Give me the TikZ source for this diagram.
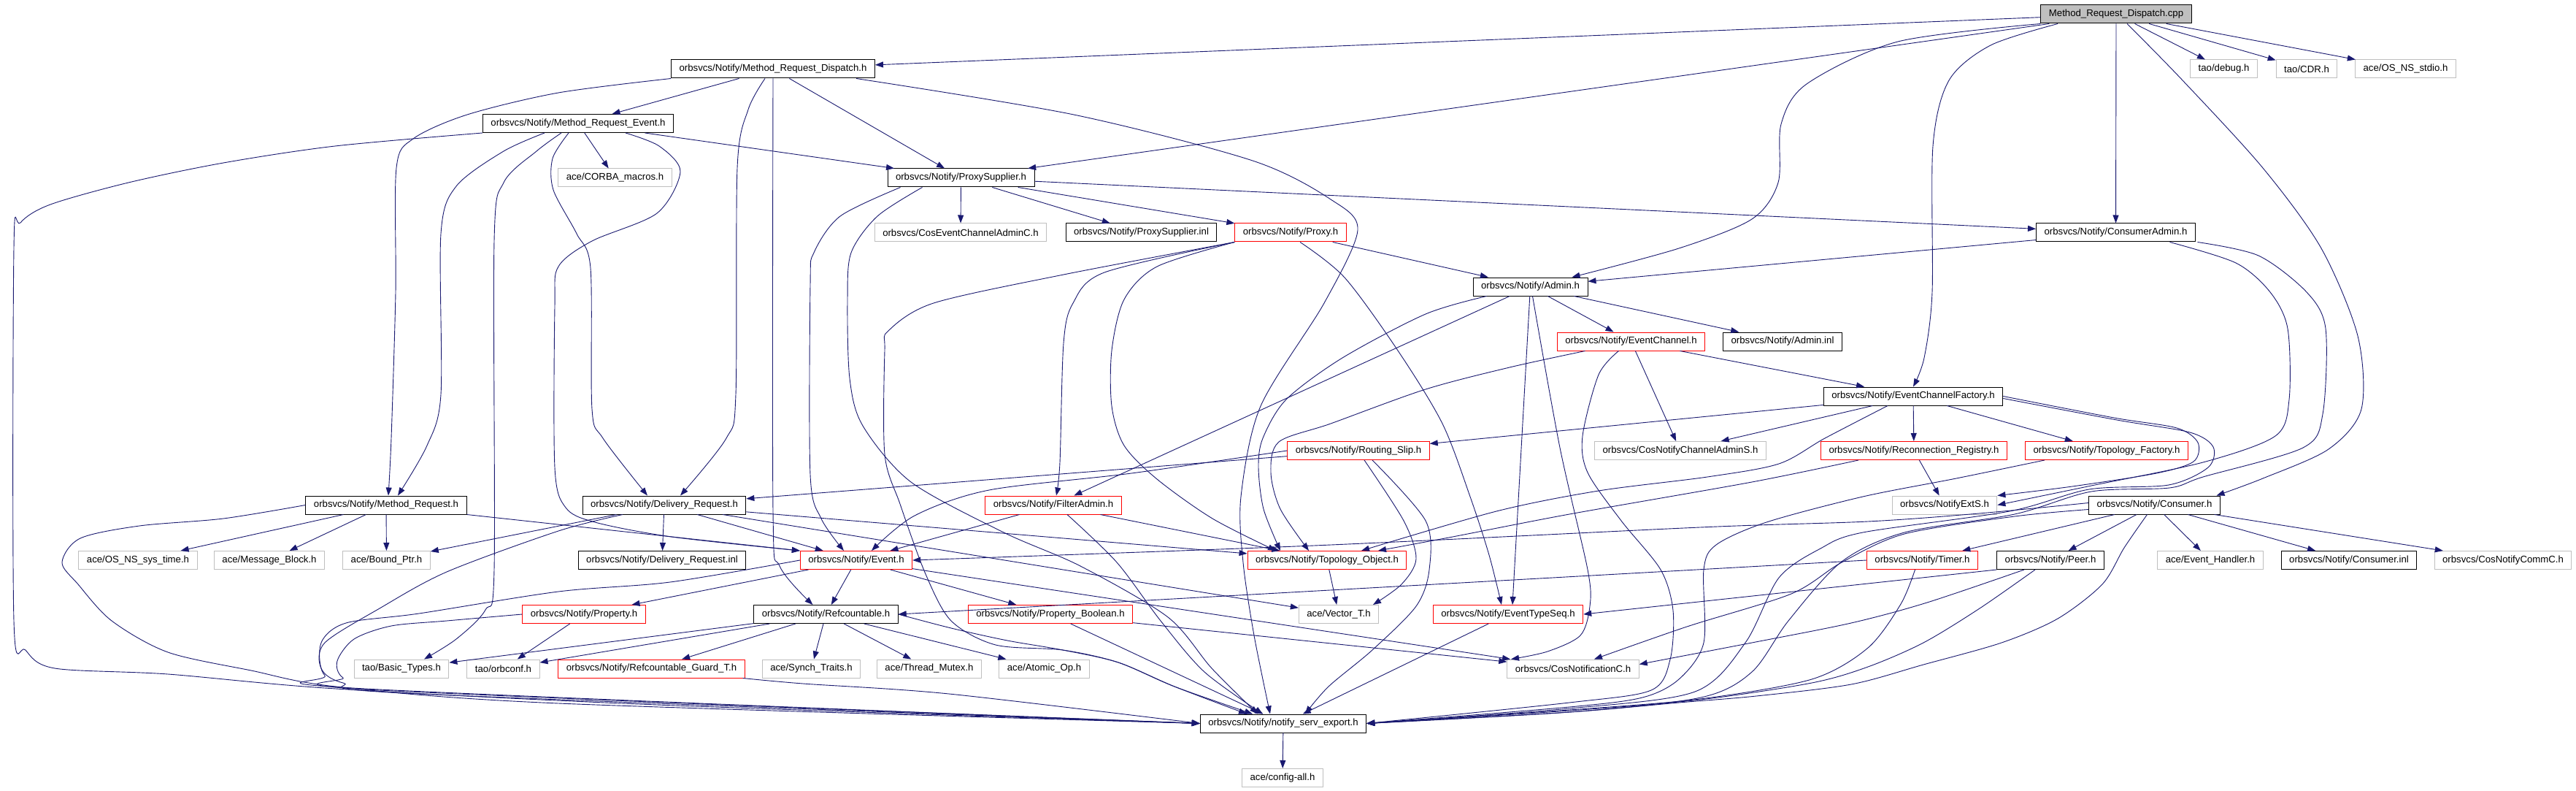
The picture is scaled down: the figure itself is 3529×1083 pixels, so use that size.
\documentclass[tikz,border=0pt]{standalone}
\usepackage{fontspec}
\newfontfamily\graphfont{Liberation Sans}
\usetikzlibrary{arrows.meta}
\definecolor{edgeblue}{HTML}{191970}
\definecolor{extgray}{HTML}{BFBFBF}
\tikzset{
  hnode/.style={draw=black, rectangle, line width=1pt, minimum height=25pt, inner xsep=11pt, inner ysep=0pt,
                font=\graphfont\fontsize{13.2}{15}\selectfont},
  trunc/.style={hnode, draw=red},
  ext/.style={hnode, draw=extgray},
  root/.style={hnode, fill=extgray},
  inc/.style={draw=edgeblue, line width=0.9pt, -{Triangle[length=11pt,width=8pt]}}
}

\begin{document}
\begin{tikzpicture}[x=1pt, y=-1pt]
\fill[white] (0,0) rectangle (3529,1083);
\useasboundingbox (0,0) rectangle (3529,1083);

\node[root]  (cpp)      at (2899,19.5)    {Method\_Request\_Dispatch.cpp};
\node[hnode] (MRD)      at (1059,94.5)    {orbsvcs/Notify/Method\_Request\_Dispatch.h};
\node[ext]   (debug)    at (3046.5,94.5)  {tao/debug.h};
\node[ext]   (CDR)      at (3160,94.5)    {tao/CDR.h};
\node[ext]   (stdio)    at (3295.5,94.5)  {ace/OS\_NS\_stdio.h};
\node[hnode] (MRE)      at (792,169)      {orbsvcs/Notify/Method\_Request\_Event.h};
\node[ext]   (CORBA)    at (842.5,243.5)  {ace/CORBA\_macros.h};
\node[hnode] (PS)       at (1316.5,243.5) {orbsvcs/Notify/ProxySupplier.h};
\node[ext]   (CECA)     at (1316,318.5)   {orbsvcs/CosEventChannelAdminC.h};
\node[hnode] (PSinl)    at (1563.5,318.5) {orbsvcs/Notify/ProxySupplier.inl};
\node[trunc] (Proxy)    at (1768,318.5)   {orbsvcs/Notify/Proxy.h};
\node[hnode] (CA)       at (2898.5,318.5) {orbsvcs/Notify/ConsumerAdmin.h};
\node[hnode] (Admin)    at (2096.5,392.5) {orbsvcs/Notify/Admin.h};
\node[trunc] (EC)       at (2234.5,467.5) {orbsvcs/Notify/EventChannel.h};
\node[hnode] (Admininl) at (2442,467.5)   {orbsvcs/Notify/Admin.inl};
\node[hnode] (ECF)      at (2621,542.5)   {orbsvcs/Notify/EventChannelFactory.h};
\node[trunc] (RS)       at (1861,617)     {orbsvcs/Notify/Routing\_Slip.h};
\node[ext]   (CNCAS)    at (2302,617)     {orbsvcs/CosNotifyChannelAdminS.h};
\node[trunc] (RR)       at (2622,617)     {orbsvcs/Notify/Reconnection\_Registry.h};
\node[trunc] (TF)       at (2886,617)     {orbsvcs/Notify/Topology\_Factory.h};
\node[hnode] (MR)       at (529,691.5)    {orbsvcs/Notify/Method\_Request.h};
\node[hnode] (DR)       at (910,691.5)    {orbsvcs/Notify/Delivery\_Request.h};
\node[trunc] (FA)       at (1443,691.5)   {orbsvcs/Notify/FilterAdmin.h};
\node[ext]   (NES)      at (2664,691.5)   {orbsvcs/NotifyExtS.h};
\node[hnode] (Cons)     at (2951.5,691.5) {orbsvcs/Notify/Consumer.h};
\node[ext]   (OSsys)    at (189,767)      {ace/OS\_NS\_sys\_time.h};
\node[ext]   (MB)       at (369,767)      {ace/Message\_Block.h};
\node[ext]   (BP)       at (529.5,767)    {ace/Bound\_Ptr.h};
\node[hnode] (DRinl)    at (907,767)      {orbsvcs/Notify/Delivery\_Request.inl};
\node[trunc] (Ev)       at (1173,767)     {orbsvcs/Notify/Event.h};
\node[trunc] (TO)       at (1818,767)     {orbsvcs/Notify/Topology\_Object.h};
\node[trunc] (Timer)    at (2633.5,767)   {orbsvcs/Notify/Timer.h};
\node[hnode] (Peer)     at (2809,767)     {orbsvcs/Notify/Peer.h};
\node[ext]   (EH)       at (3028,767)     {ace/Event\_Handler.h};
\node[hnode] (Consinl)  at (3218,767)     {orbsvcs/Notify/Consumer.inl};
\node[ext]   (CNCC)     at (3429,767)     {orbsvcs/CosNotifyCommC.h};
\node[trunc] (Prop)     at (800,841)      {orbsvcs/Notify/Property.h};
\node[hnode] (Ref)      at (1131.5,841)   {orbsvcs/Notify/Refcountable.h};
\node[trunc] (PB)       at (1439,841)     {orbsvcs/Notify/Property\_Boolean.h};
\node[ext]   (VT)       at (1834,841)     {ace/Vector\_T.h};
\node[trunc] (ETS)      at (2066,841)     {orbsvcs/Notify/EventTypeSeq.h};
\node[ext]   (BT)       at (550,915.5)    {tao/Basic\_Types.h};
\node[ext]   (orbconf)  at (689.5,915.5)  {tao/orbconf.h};
\node[trunc] (RG)       at (892.5,915.5)  {orbsvcs/Notify/Refcountable\_Guard\_T.h};
\node[ext]   (ST)       at (1111.5,915.5) {ace/Synch\_Traits.h};
\node[ext]   (TM)       at (1273,915.5)   {ace/Thread\_Mutex.h};
\node[ext]   (AO)       at (1430.5,915.5) {ace/Atomic\_Op.h};
\node[ext]   (CNC)      at (2155,915.5)   {orbsvcs/CosNotificationC.h};
\node[hnode] (NSE)      at (1758,990.5)   {orbsvcs/Notify/notify\_serv\_export.h};
\node[ext]   (CFG)      at (1757,1065)    {ace/config-all.h};

\draw[inc] (cpp) -- (MRD);
\draw[inc] (cpp) -- (PS);
\draw[inc] plot[smooth] coordinates {(cpp.south west) (2600,57) (2475,115) (2440,170) (2436,250) (2400,300) (2300,340) ([xshift=-22pt]Admin.north east)};
\draw[inc] plot[smooth] coordinates {([xshift=-80pt]cpp.south) (2727,62) (2670,110) (2648,200) (2647,400) (2636,490) (ECF.north)};
\draw[inc] (cpp) -- (CA);
\draw[inc] plot[smooth] coordinates {([xshift=15pt]cpp.south) (2990,110) (3100,230) (3180,340) (3230,460) (3235,560) (3190,615) (3100,655) ([xshift=85pt]Cons.north)};
\draw[inc] (cpp) -- (debug);
\draw[inc] (cpp) -- (CDR);
\draw[inc] (cpp) -- (stdio);

\draw[inc] (MRD) -- (MRE);
\draw[inc] plot[smooth] coordinates {(MRD.south west) (765,127) (640,157) (566,190) (543,230) (542,400) (536,600) ([xshift=3pt]MR.north)};
\draw[inc] plot[smooth] coordinates {([xshift=-11pt]MRD.south) (1025,150) (1010,230) (1008,540) (995,600) ([xshift=22pt]DR.north)};
\draw[inc] plot[smooth] coordinates {(MRD.south) (1059,700) (1068,775) ([xshift=-18pt]Ref.north)};
\draw[inc] (MRD) -- (PS);
\draw[inc] plot[smooth] coordinates {([xshift=114pt]MRD.south) (1471,157) (1716,220) (1823,273) (1860,315) (1814,415) (1727,556) (1700,680) (1703,770) (1718,870) ([xshift=-18pt]NSE.north)};

\draw[inc] (MRE) -- (CORBA);
\draw[inc] (MRE) -- (PS);
\draw[inc] plot[smooth] coordinates {(MRE.south west) (459,200) (306,223) (176,250) (69,280) (28,305) (19,340) (19,850) (35,890) (75,915) (230,923) (460,943) (900,965) (NSE.west)};
\draw[inc] plot[smooth] coordinates {([xshift=-46pt]MRE.south) (690,207) (625,255) (604,320) (604,540) (585,610) ([xshift=16pt]MR.north)};
\draw[inc] plot[smooth] coordinates {([xshift=-23pt]MRE.south) (735,207) (690,250) (677,330) (677,780) (665,835) (625,875) ([xshift=31pt]BT.north)};
\draw[inc] plot[smooth] coordinates {([xshift=65pt]MRE.south) (903,200) (932,235) (900,292) (811,330) (765,365) (760,420) (760,640) (775,695) (815,715) (920,735) (Ev.north west)};
\draw[inc] plot[smooth] coordinates {([xshift=-13pt]MRE.south) (757,217) (758,260) (790,320) (809,367) (811,560) (826,600) ([xshift=-23pt]DR.north)};

\draw[inc] (PS) -- (CECA);
\draw[inc] (PS) -- (PSinl);
\draw[inc] (PS) -- (Proxy);
\draw[inc] (PS) -- (CA);
\draw[inc] plot[smooth] coordinates {([xshift=-83pt]PS.south) (1151,296) (1115,346) (1110,390) (1110,650) (1125,710) ([xshift=-17pt]Ev.north)};
\draw[inc] plot[smooth] coordinates {([xshift=-53pt]PS.south) (1202,296) (1166,346) (1161,410) (1164,518) (1182,583) (1248,660) (1375,729) (1480,775) (1600,845) (1660,915) ([xshift=-35pt]NSE.north)};

\draw[inc] (Proxy) -- (Admin);
\draw[inc] plot[smooth] coordinates {(Proxy.south west) (1513,373) (1470,415) (1457,470) (1452,633) ([xshift=4pt]FA.north)};
\draw[inc] plot[smooth] coordinates {(Proxy.south west) (1585,365) (1540,410) (1523,480) (1523,556) (1540,610) (1585,656) (1661,710) ([xshift=-70pt]TO.north)};
\draw[inc] plot[smooth] coordinates {(Proxy.south west) (1457,376) (1279,415) (1217,453) (1212,480) (1212,622) (1233,690) (1268,786) (1303,850) (1364,883) (1456,890) (1532,907) (1609,940) ([xshift=-42pt]NSE.north)};
\draw[inc] plot[smooth] coordinates {([xshift=13pt]Proxy.south) (1842,380) (1915,480) (1976,580) (2014,680) (2040,760) ([xshift=-9pt]ETS.north)};

\draw[inc] (CA) -- (Admin);
\draw[inc] plot[smooth] coordinates {([xshift=74pt]CA.south) (3063,360) (3110,400) (3134,450) (3136,547) (3117,597) (3018,633) (2865,665) (NES.east)};
\draw[inc] plot[smooth] coordinates {([xshift=112pt]CA.south) (3094,350) (3160,400) (3186,450) (3182,567) (3155,613) (3018,653) (2972,668) (2865,673) (2760,704) (2609,729) (2523,769) (2450,850) (2400,920) (2330,955) (2150,975) (NSE.east)};

\draw[inc] plot[smooth] coordinates {([xshift=-60pt]Admin.south) (1953,430) (1839,490) (1762,547) (1730,600) (1724,640) (1731,697) ([xshift=-64pt]TO.north)};
\draw[inc] (Admin) -- (FA);
\draw[inc] (Admin) -- ([xshift=6pt]ETS.north);
\draw[inc] plot[smooth] coordinates {([xshift=3pt]Admin.south) (2137,613) (2175,780) (2178,830) (2165,870) (2120,892) ([xshift=-85pt]CNC.north)};
\draw[inc] (Admin) -- (EC);
\draw[inc] (Admin) -- (Admininl);

\draw[inc] plot[smooth] coordinates {([xshift=-63pt]EC.south) (2068,503) (1953,533) (1823,580) (1752,605) (1741,647) (1754,697) ([xshift=-25pt]TO.north)};
\draw[inc] plot[smooth] coordinates {([xshift=-17pt]EC.south) (2190,513) (2168,597) (2175,647) (2221,713) (2275,780) (2292,836) (2288,903) (2262,945) (2150,962) (NSE.east)};
\draw[inc] (EC) -- (CNCAS);
\draw[inc] (EC) -- (ECF);

\draw[inc] (ECF) -- (RS);
\draw[inc] (ECF) -- (CNCAS);
\draw[inc] plot[smooth] coordinates {([xshift=-35pt]ECF.south) (2500,600) (2437,635) (2339,653) (2190,672) (2050,700) ([xshift=47pt]TO.north)};
\draw[inc] (ECF) -- (RR);
\draw[inc] (ECF) -- (TF);
\draw[inc] plot[smooth] coordinates {(ECF.east) (2896,572) (2982,586) (3011,606) (3005,632) (2954,648) (2839,666) (NES.north east)};
\draw[inc] plot[smooth] coordinates {([yshift=-3pt]ECF.east) (2900,575) (3000,592) (3032,612) (3025,640) (2971,664) (2862,670) (2753,700) (2552,729) (2494,751) (2437,791) (2391,880) (2322,947) (2150,970) (NSE.east)};

\draw[inc] plot[smooth] coordinates {([xshift=-76pt]RR.south) (2400,660) (2150,704) (1990,735) ([xshift=70pt]TO.north)};
\draw[inc] (RR) -- (NES);
\draw[inc] plot[smooth] coordinates {([xshift=-85pt]TF.south) (2680,655) (2552,680) (2420,715) (2351,746) (2334,780) (2334,880) (2300,930) (2250,955) (2150,968) (NSE.east)};

\draw[inc] (RS) -- (DR);
\draw[inc] plot[smooth] coordinates {(RS.west) (1550,648) (1355,671) (1253,706) ([xshift=21pt]Ev.north)};
\draw[inc] plot[smooth] coordinates {([xshift=8pt]RS.south) (1923,713) (1940,765) (1920,800) ([xshift=47pt]VT.north)};
\draw[inc] plot[smooth] coordinates {([xshift=19pt]RS.south) (1953,713) (1958,780) (1940,830) (1880,890) (1820,940) ([xshift=30pt]NSE.north)};

\draw[inc] (FA) -- (Ev);
\draw[inc] (FA) -- (TO);
\draw[inc] plot[smooth] coordinates {([xshift=19pt]FA.south) (1530,770) (1590,850) (1650,920) ([xshift=-28pt]NSE.north)};

\draw[inc] (DR) -- (BP);
\draw[inc] plot[smooth] coordinates {([xshift=-57pt]DR.south) (765,727) (612,783) (520,833) (445,880) (440,915) (470,935) (574,950) (NSE.west)};
\draw[inc] (DR) -- (DRinl);
\draw[inc] (DR) -- (Ev);
\draw[inc] (DR) -- (TO);
\draw[inc] (DR) -- (VT);

\draw[inc] plot[smooth] coordinates {(MR.west) (306,710) (191,720) (110,737) (85,770) (107,800) (153,850) (230,893) (344,918) (460,940) (765,963) (NSE.west)};
\draw[inc] (MR) -- (OSsys);
\draw[inc] (MR) -- (MB);
\draw[inc] (MR) -- (BP);
\draw[inc] (MR.south east) -- (Ev.north west);

\draw[inc] plot[smooth] coordinates {(Ev.west) (918,797) (765,810) (574,840) (474,853) (440,880) (445,925) (500,943) (NSE.west)};
\draw[inc] (Ev) -- (Prop);
\draw[inc] (Ev) -- (Ref);
\draw[inc] (Ev) -- (PB);
\draw[inc] (Ev) -- (CNC);

\draw[inc] plot[smooth] coordinates {(Prop.west) (612,850) (536,857) (485,875) (462,905) (470,928) (520,945) (NSE.west)};
\draw[inc] (Prop) -- (orbconf);

\draw[inc] (Ref) -- (BT);
\draw[inc] (Ref) -- (orbconf);
\draw[inc] (Ref) -- (RG);
\draw[inc] (Ref) -- (ST);
\draw[inc] (Ref) -- (TM);
\draw[inc] (Ref) -- (AO);
\draw[inc] plot[smooth] coordinates {(Ref.east) (1303,860) (1380,877) (1456,890) (1532,907) (1609,940) ([xshift=-50pt]NSE.north)};
\draw[inc] plot[smooth] coordinates {([xshift=-3pt]RG.south east) (1100,936) (1300,950) (NSE.west)};

\draw[inc] (PB) -- (NSE);
\draw[inc] (PB) -- (CNC);
\draw[inc] (TO) -- (VT);
\draw[inc] (ETS) -- (NSE);

\draw[inc] plot[smooth] coordinates {([yshift=3pt]Cons.west) (2711,703) (2559,714) (2329,722) (1800,747) (Ev.east)};
\draw[inc] plot[smooth] coordinates {([yshift=-6pt]Cons.west) (2760,707) (2609,731) (2523,770) (2454,813) (2311,858) ([xshift=29pt]CNC.north)};
\draw[inc] plot[smooth] coordinates {([xshift=-10pt]Cons.south) (2910,750) (2880,800) (2819,847) (2742,880) (2635,910) (2536,937) (2406,953) (2300,962) (2150,975) (NSE.east)};
\draw[inc] (Cons) -- (Timer);
\draw[inc] (Cons) -- (Peer);
\draw[inc] (Cons) -- (EH);
\draw[inc] (Cons) -- (Consinl);
\draw[inc] (Cons) -- (CNCC);

\draw[inc] (Timer.west) -- (Ref.east);
\draw[inc] plot[smooth] coordinates {([xshift=-10pt]Timer.south) (2604,827) (2559,887) (2482,930) (2329,957) (2150,972) (NSE.east)};
\draw[inc] (Peer.south west) -- (ETS.east);
\draw[inc] plot[smooth] coordinates {([xshift=-36pt]Peer.south) (2640,825) (2536,853) (2400,880) ([yshift=6pt]CNC.east)};
\draw[inc] plot[smooth] coordinates {([xshift=-21pt]Peer.south) (2712,833) (2635,880) (2559,913) (2482,935) (2329,958) (2150,973) (NSE.east)};

\draw[inc] (NSE) -- (CFG);
\end{tikzpicture}
\end{document}
